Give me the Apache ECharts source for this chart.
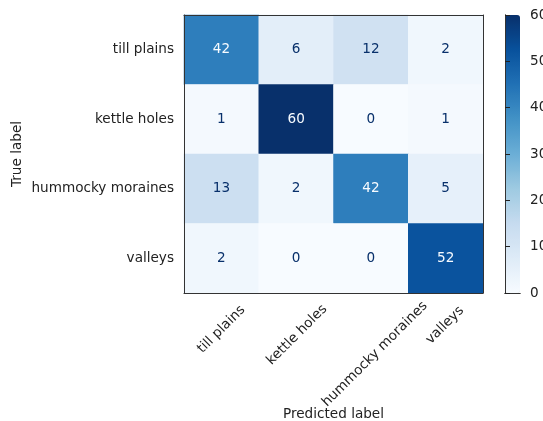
<!DOCTYPE html>
<html>
<head>
<meta charset="utf-8">
<script src="https://cdn.jsdelivr.net/npm/echarts@6/dist/echarts.min.js"></script>
<style>
  html, body { margin: 0; padding: 0; background: #fff; }
  #chart { width: 543px; height: 421px; }
</style>
</head>
<body>
<div id="chart"></div>
<script>
// class names, same order on both axes
const categories = ['till plains', 'kettle holes', 'hummocky moraines', 'valleys']
// rows = true label, columns = predicted label
const counts = [
  [42, 6, 12, 2],
  [1, 60, 0, 1],
  [13, 2, 42, 5],
  [2, 0, 0, 52]
]
const colorMin = 0
const colorMax = 60
const colorStep = 10

// matplotlib Blues
const blues = ['#f7fbff', '#deebf7', '#c6dbef', '#9ecae1', '#6baed6', '#4292c6', '#2171b5', '#08519c', '#08306b']
const FONT = 'DejaVu Sans'
const FS = 13.6

let myChart = echarts.init(document.getElementById('chart'))

// heatmap cells with text colour like ConfusionMatrixDisplay
let cells = []
counts.forEach((row, i) => {
  row.forEach((v, j) => {
    cells.push({
      value: [j, i, v],
      label: { color: v < (colorMin + colorMax) / 2 ? '#08306b' : '#f7fbff' }
    })
  })
})

// rotated x labels: centre the rotated box on the tick (like mpl rotation=45)
let ctx = document.createElement('canvas').getContext('2d')
ctx.font = FS + 'px "' + FONT + '"'
let rich = {}
categories.forEach((c, i) => {
  let w = ctx.measureText(c).width
  let K = (303 + 0.354 * FS - 301) / 0.707
  let q = Math.max(0, (K + w / 2) / 2)
  // small shift along the text for long labels
  let s = 0.07 * (w - 61)
  let pr = Math.max(0, 2 * q - 2 * s)
  rich['p' + i] = {
    fontFamily: FONT, fontSize: FS, color: '#222',
    padding: [2 * q, pr, 0, 0]
  }
})

const lineColor = '#333'
const frameAxis = {
  axisLine: { show: true, lineStyle: { color: lineColor, width: 1 } },
  axisTick: { show: false },
  axisLabel: { show: false },
  splitLine: { show: false },
  z: 10
}

let option = {
  animation: false,
  grid: [
    { left: 184, top: 15, width: 299, height: 278, outerBoundsMode: 'none', containLabel: false },
    { left: 505, top: 15, width: 15, height: 278, outerBoundsMode: 'none', containLabel: false }
  ],
  visualMap: {
    type: 'continuous',
    seriesIndex: 0,
    min: colorMin,
    max: colorMax,
    calculable: false,
    orient: 'vertical',
    left: 505,
    top: 15,
    padding: 0,
    itemWidth: 15,
    itemHeight: 278,
    text: null,
    inRange: { color: blues }
  },
  xAxis: [
    {
      type: 'category',
      gridIndex: 0,
      data: categories,
      position: 'bottom',
      name: 'Predicted label',
      nameLocation: 'middle',
      nameGap: 114,
      nameMoveOverlap: false,
      nameTextStyle: { fontFamily: FONT, fontSize: FS, color: '#222' },
      axisLine: { lineStyle: { color: lineColor, width: 1 } },
      axisTick: { alignWithLabel: true, length: 5, lineStyle: { color: '#222' } },
      axisLabel: {
        interval: 0,
        rotate: 45,
        margin: 8,
        align: 'center',
        verticalAlign: 'middle',
        formatter: (v, i) => '{p' + i + '|' + v + '}',
        rich: rich
      },
      splitLine: { show: false },
      z: 10
    },
    Object.assign({ type: 'category', gridIndex: 0, data: categories, position: 'top' }, frameAxis),
    Object.assign({ type: 'value', gridIndex: 1, min: 0, max: 1, position: 'bottom' }, frameAxis),
    Object.assign({ type: 'value', gridIndex: 1, min: 0, max: 1, position: 'top' }, frameAxis)
  ],
  yAxis: [
    {
      type: 'category',
      gridIndex: 0,
      data: categories,
      inverse: true,
      position: 'left',
      name: 'True label',
      nameLocation: 'middle',
      nameRotate: 90,
      nameGap: 160,
      nameMoveOverlap: false,
      nameTextStyle: { fontFamily: FONT, fontSize: FS, color: '#222' },
      axisLine: { lineStyle: { color: lineColor, width: 1 } },
      axisTick: { alignWithLabel: true, length: 5, lineStyle: { color: '#222' } },
      axisLabel: { margin: 10, fontFamily: FONT, fontSize: FS, color: '#222' },
      splitLine: { show: false },
      z: 10
    },
    Object.assign({ type: 'category', gridIndex: 0, data: categories, inverse: true, position: 'right' }, frameAxis),
    {
      type: 'value',
      gridIndex: 1,
      position: 'right',
      min: colorMin,
      max: colorMax,
      interval: colorStep,
      axisLine: { show: true, lineStyle: { color: lineColor, width: 1 } },
      axisTick: { show: true, length: 5, lineStyle: { color: '#222' } },
      axisLabel: { margin: 10, fontFamily: FONT, fontSize: FS, color: '#222' },
      splitLine: { show: false },
      z: 10
    },
    Object.assign({ type: 'value', gridIndex: 1, min: colorMin, max: colorMax, position: 'left' }, frameAxis)
  ],
  series: [
    {
      type: 'heatmap',
      xAxisIndex: 0,
      yAxisIndex: 0,
      data: cells,
      label: { show: true, fontFamily: FONT, fontSize: FS },
      itemStyle: { borderWidth: 0 }
    }
  ]
}
myChart.setOption(option, true)
</script>
</body>
</html>
